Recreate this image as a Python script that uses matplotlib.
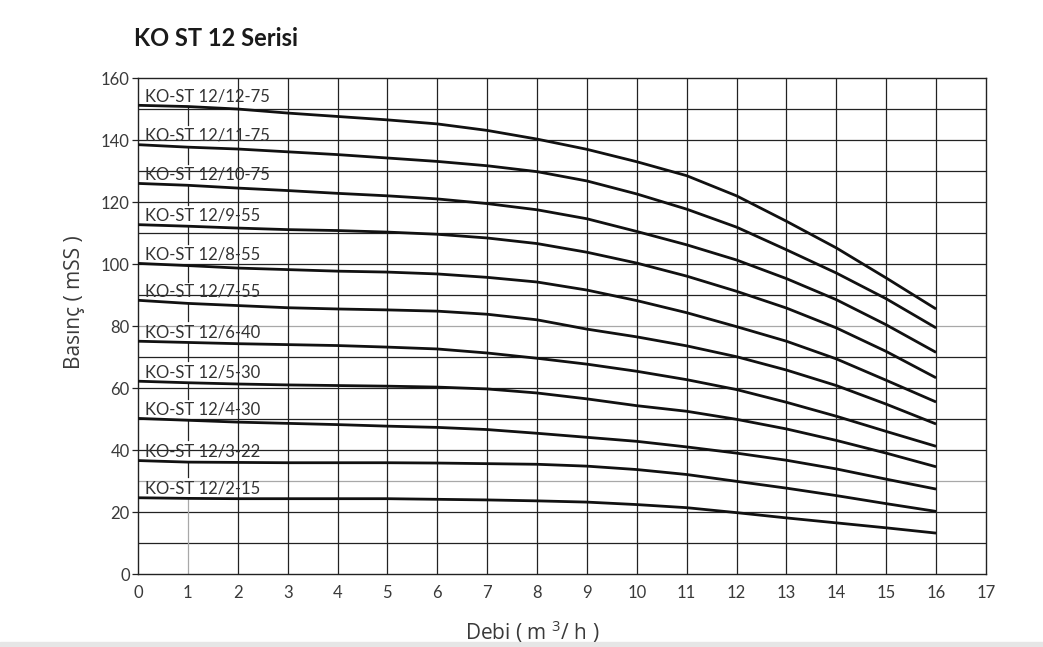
import matplotlib.pyplot as plt
from matplotlib.patches import Rectangle

plt.rcParams['font.family'] = ['Lato', 'DejaVu Sans']
plt.rcParams['mathtext.fontset'] = 'custom'
plt.rcParams['mathtext.rm'] = 'Open Sans'
plt.rcParams['mathtext.it'] = 'Open Sans'

# flow rate (m3/h)
flow = [0, 1, 2, 3, 4, 5, 6, 7, 8, 9, 10, 11, 12, 13, 14, 15, 16]

# head (mSS) per pump model
labels = ["KO-ST 12/12-75", "KO-ST 12/11-75", "KO-ST 12/10-75", "KO-ST 12/9-55",
          "KO-ST 12/8-55", "KO-ST 12/7-55", "KO-ST 12/6-40", "KO-ST 12/5-30",
          "KO-ST 12/4-30", "KO-ST 12/3-22", "KO-ST 12/2-15"]
h_12_12 = [151.2, 150.8, 150.0, 148.7, 147.6, 146.5, 145.2, 143.1, 140.3,
           137.0, 133.0, 128.5, 122.0, 113.8, 105.2, 95.5, 85.5]
h_12_11 = [138.5, 137.7, 137.1, 136.2, 135.3, 134.2, 133.1, 131.7, 129.8,
           126.8, 122.6, 117.7, 111.9, 104.6, 97.1, 88.8, 79.4]
h_12_10 = [126.0, 125.4, 124.5, 123.7, 122.8, 122.0, 121.0, 119.5, 117.5,
           114.6, 110.5, 106.2, 101.3, 95.3, 88.5, 80.4, 71.5]
h_12_9 = [112.7, 112.2, 111.6, 111.1, 110.8, 110.3, 109.6, 108.4, 106.6,
          103.8, 100.3, 96.1, 91.2, 85.8, 79.4, 71.8, 63.3]
h_12_8 = [100.2, 99.5, 98.7, 98.2, 97.7, 97.4, 96.8, 95.7, 94.2,
          91.6, 88.2, 84.3, 79.8, 75.1, 69.4, 62.5, 55.5]
h_12_7 = [88.3, 87.3, 86.6, 85.9, 85.5, 85.2, 84.8, 83.8, 82.0,
          79.0, 76.5, 73.6, 70.1, 65.8, 60.8, 54.8, 48.4]
h_12_6 = [75.1, 74.7, 74.3, 74.0, 73.7, 73.2, 72.6, 71.3, 69.6,
          67.7, 65.4, 62.7, 59.5, 55.4, 50.9, 46.0, 41.2]
h_12_5 = [62.2, 61.7, 61.3, 61.0, 60.8, 60.6, 60.3, 59.7, 58.4,
          56.5, 54.3, 52.5, 49.9, 46.8, 43.1, 39.0, 34.6]
h_12_4 = [50.2, 49.6, 49.0, 48.6, 48.2, 47.7, 47.3, 46.6, 45.4,
          44.1, 42.8, 41.0, 39.0, 36.7, 33.9, 30.6, 27.4]
h_12_3 = [36.6, 36.1, 36.0, 35.9, 35.9, 35.9, 35.8, 35.6, 35.4,
          34.8, 33.7, 32.1, 29.9, 27.7, 25.3, 22.7, 20.2]
h_12_2 = [24.6, 24.4, 24.3, 24.3, 24.3, 24.3, 24.1, 23.9, 23.6,
          23.2, 22.4, 21.4, 19.8, 18.1, 16.5, 14.9, 13.2]
heads = [h_12_12, h_12_11, h_12_10, h_12_9, h_12_8, h_12_7,
         h_12_6, h_12_5, h_12_4, h_12_3, h_12_2]

x_ticks = list(range(0, 18))
y_ticks = list(range(0, 161, 20))

fig = plt.figure(figsize=(10.43, 6.47), dpi=100)
ax = fig.add_axes([0.1323, 0.1128, 0.8130, 0.7666])
ax.set_xlim(0, 17)
ax.set_ylim(0, 160)

# grid: every 1 on x, every 10 on y
grid_kw = dict(color='#222222', lw=0.9, zorder=1)
for gy in range(10, 160, 10):
    c = '#a8a8a8' if gy in (30, 80) else '#222222'
    ax.axhline(gy, color=c, lw=0.9, zorder=1)
for gx in range(2, 17):
    ax.axvline(gx, **grid_kw)
# x=1 line is broken behind the curve labels
ax.plot([1, 1], [0, h_12_2[1]], color='#a8a8a8', lw=0.9, zorder=1)
for upper, lower in zip(heads[:-1], heads[1:]):
    ax.plot([1, 1], [lower[1] + 7, upper[1]], **grid_kw)

for h, lab in zip(heads, labels):
    ax.plot(flow, h, color='#111111', lw=2.0, solid_capstyle='butt', zorder=3)
    ax.text(0.15, h[0] + 1.3, lab, fontsize=12, color='#333333',
            va='baseline', ha='left', zorder=4)

for s in ax.spines.values():
    s.set_color('#222222')
    s.set_linewidth(1.0)

ax.set_xticks(x_ticks)
ax.set_yticks(y_ticks)
ax.tick_params(axis='x', length=0, pad=8, labelsize=12, labelcolor='#3a3a3a')
ax.tick_params(axis='y', length=4, width=0.9, color='#222222', pad=2,
               labelsize=12, labelcolor='#3a3a3a')

fig.text(0.071, 0.533, 'Basınç ( mSS )', fontsize=15, color='#3a3a3a',
         family=['Open Sans', 'DejaVu Sans'], rotation=90,
         ha='center', va='center')
fig.text(0.5106, 0.011, 'Debi ( m $^{3}$/ h )', fontsize=15, color='#3a3a3a',
         family=['Open Sans', 'DejaVu Sans'], ha='center', va='baseline')
fig.text(0.128, 0.94, 'KO ST 12 Serisi', fontsize=17, fontweight='bold',
         color='#1a1a1a', ha='left', va='center')

# light band along the bottom edge
fig.patches.append(Rectangle((0, 0), 1, 0.008, transform=fig.transFigure,
                             color='#e6e6e6', zorder=0))

fig.savefig('out.png', dpi=100)
